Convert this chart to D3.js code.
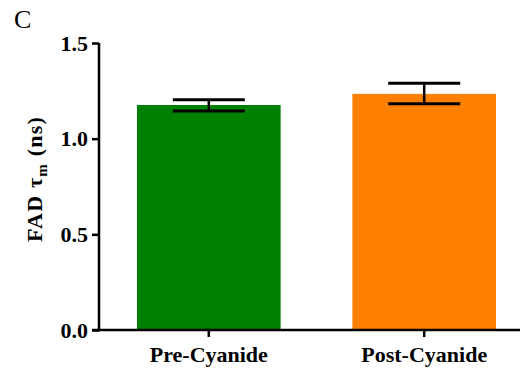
<!DOCTYPE html>
<html lang="en">
    <head>
        <meta charset="utf-8"/>
        <script src="https://d3js.org/d3.v7.min.js"></script>
        <style>
            body { margin: 0; background: #fff; }
        </style>
    </head>
    <body>
        <div id="chart"></div>
    </body>
    <script>
        var categories = ["Pre-Cyanide", "Post-Cyanide"];
        var means = [1.176, 1.234];
        var errLow = [1.145, 1.183];
        var errHigh = [1.204, 1.29];
        var colors = ["#008000", "#ff8000"];
        var yTicks = [0.0, 0.5, 1.0, 1.5];

        var W = 525, H = 374;
        var font = "'Liberation Serif', 'Times New Roman', serif";
        var svg = d3.select("#chart")
            .append("svg")
                .attr("width", W)
                .attr("height", H);

        var x = d3.scaleBand()
            .domain(categories)
            .range([101, 532])
            .paddingInner(0.333)
            .paddingOuter(0.167);

        var y = d3.scaleLinear()
            .domain([0, 1.5])
            .range([330, 43]);

        // bars
        svg.selectAll("rect.bar")
            .data(categories)
            .enter()
            .append("rect")
                .attr("class", "bar")
                .attr("x", function(d) { return x(d); })
                .attr("y", function(d, i) { return y(means[i]); })
                .attr("width", x.bandwidth())
                .attr("height", function(d, i) { return y(0) - y(means[i]); })
                .style("fill", function(d, i) { return colors[i]; });

        // error bars
        var capW = 72;
        categories.forEach(function(d, i) {
            var cx = x(d) + x.bandwidth() / 2;
            svg.append("line")
                .attr("x1", cx).attr("x2", cx)
                .attr("y1", y(errLow[i])).attr("y2", y(errHigh[i]))
                .style("stroke", "#000").style("stroke-width", 2.5);
            [errLow[i], errHigh[i]].forEach(function(v) {
                svg.append("line")
                    .attr("x1", cx - capW / 2).attr("x2", cx + capW / 2)
                    .attr("y1", y(v)).attr("y2", y(v))
                    .style("stroke", "#000").style("stroke-width", 3);
            });
        });

        // y axis
        var yAxis = svg.append("g")
            .attr("transform", "translate(99,0)")
            .call(d3.axisLeft(y).tickValues(yTicks).tickFormat(d3.format(".1f")).tickSize(7).tickPadding(4));
        yAxis.select(".domain").attr("d", "M0," + y(1.5) + "V" + (y(0) + 1.2));
        yAxis.selectAll("path, line").style("stroke", "#000").style("stroke-width", 2.5);
        yAxis.selectAll("text")
            .style("font-family", font)
            .style("font-weight", "bold")
            .style("font-size", "22px")
            .style("fill", "#000");

        // x axis
        var xAxis = svg.append("g")
            .attr("transform", "translate(0,330)")
            .call(d3.axisBottom(x).tickSize(7).tickPadding(9));
        xAxis.select(".domain").attr("d", "M92,0H520");
        xAxis.selectAll("path, line").style("stroke", "#000").style("stroke-width", 2.5);
        xAxis.selectAll("text")
            .style("font-family", font)
            .style("font-weight", "bold")
            .style("font-size", "22px")
            .style("fill", "#000");

        // y label
        var lab = svg.append("text")
            .attr("transform", "translate(42,179) rotate(-90)")
            .attr("text-anchor", "middle")
            .style("font-family", font)
            .style("font-weight", "bold")
            .style("font-size", "22px")
            .style("letter-spacing", "1.2px");
        lab.append("tspan").text("FAD ");
        lab.append("tspan").text("τ");
        lab.append("tspan").attr("dy", 5).style("font-size", "15px").text("m");
        lab.append("tspan").attr("dy", -5).text(" (ns)");

        // panel letter
        svg.append("text")
            .attr("x", 14).attr("y", 28)
            .style("font-family", font)
            .style("font-size", "26px")
            .text("C");
    </script>
</html>
